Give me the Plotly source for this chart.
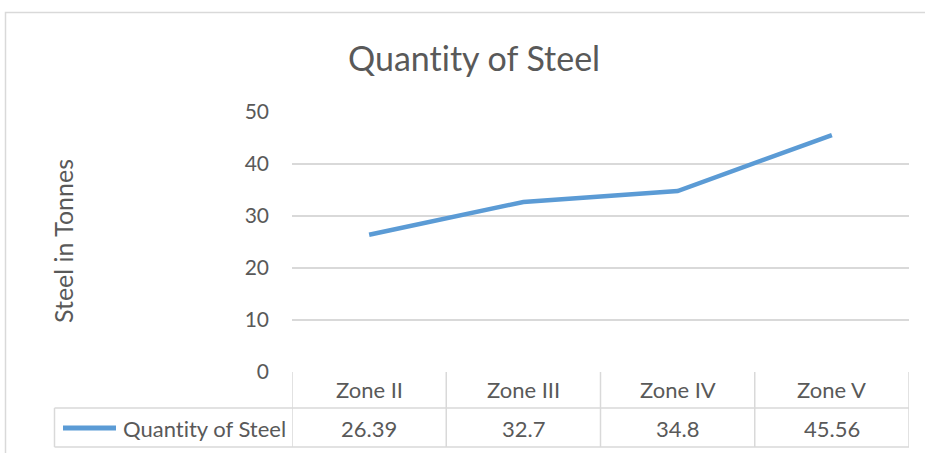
import plotly.graph_objects as go

categories = ["Zone II", "Zone III", "Zone IV", "Zone V"]
steel_tonnes = [26.39, 32.7, 34.8, 45.56]
series_name = "Quantity of Steel"
y_ticks = [0, 10, 20, 30, 40, 50]

W, H = 925, 453
L, T = 292, 112
R = W - 909
B = H - 372
PW, PH = W - L - R, H - T - B

def px(xp):
    return (xp - L) / PW

def py(yp):
    return (H - B - yp) / PH

FONT = "Lato"
TXT = "#595959"
GRID = "#d9d9d9"
BLUE = "#5B9BD5"
ZWNJ = "\u200c"

fig = go.Figure()
fig.add_trace(go.Scatter(
    x=categories, y=steel_tonnes, mode="lines", name=series_name,
    line=dict(color=BLUE, width=4.5), showlegend=False))

shapes = []
annotations = []
shapes.append(dict(type="rect", xref="paper", yref="paper", x0=px(5.5), x1=px(960), y0=py(12.5), y1=py(480),
                   line=dict(color=GRID, width=1.5), layer="below"))
row1_bot, row2_bot = 408, 447
for i in range(len(categories) + 1):
    shapes.append(dict(type="line", xref="x", yref="paper", x0=i - 0.5, x1=i - 0.5,
                       y0=py(372), y1=py(row2_bot), line=dict(color=GRID, width=1.5)))
for yy in (row1_bot, row2_bot):
    shapes.append(dict(type="line", xref="paper", yref="paper", x0=px(54.5), x1=1, y0=py(yy), y1=py(yy),
                       line=dict(color=GRID, width=1.5)))
shapes.append(dict(type="line", xref="paper", yref="paper", x0=px(54.5), x1=px(54.5), y0=py(row1_bot), y1=py(row2_bot),
                   line=dict(color=GRID, width=1.5)))
shapes.append(dict(type="line", xref="paper", yref="paper", x0=px(63), x1=px(116), y0=py(428), y1=py(428),
                   line=dict(color=BLUE, width=5)))
annotations.append(dict(text=series_name.replace("ti", "t" + ZWNJ + "i"), xref="paper", yref="paper",
                        x=px(121), y=py(428), xanchor="left", yanchor="middle", showarrow=False,
                        font=dict(family=FONT, size=22, color=TXT)))
for c, v in zip(categories, steel_tonnes):
    annotations.append(dict(text=c, xref="x", yref="paper", x=c, y=py(389), xanchor="center", yanchor="middle",
                            showarrow=False, font=dict(family=FONT, size=22, color=TXT)))
    annotations.append(dict(text=f"{v:g}", xref="x", yref="paper", x=c, y=py(428), xanchor="center",
                            yanchor="middle", showarrow=False, font=dict(family=FONT, size=22, color=TXT)))
annotations.append(dict(text="Quant" + ZWNJ + "ity of Steel", xref="paper", yref="paper", x=px(474), y=py(57),
                        xanchor="center", yanchor="middle", showarrow=False,
                        font=dict(family=FONT, size=34, color=TXT)))
annotations.append(dict(text="Steel in Tonnes", xref="paper", yref="paper", x=px(63), y=py(241),
                        xanchor="center", yanchor="middle", textangle=-90, showarrow=False,
                        font=dict(family=FONT, size=25, color=TXT)))

fig.update_layout(
    width=W, height=H, margin=dict(l=L, r=R, t=T, b=B),
    paper_bgcolor="white", plot_bgcolor="white",
    shapes=shapes, annotations=annotations, showlegend=False,
    xaxis=dict(type="category", range=[-0.5, 3.5], showticklabels=False, showgrid=False,
               zeroline=False, showline=False, fixedrange=True),
    yaxis=dict(range=[0, 50], tickvals=y_ticks, showgrid=True, gridcolor=GRID, gridwidth=1.5,
               zeroline=False, showline=False, ticks="", ticklabelstandoff=22,
               tickfont=dict(family=FONT, size=21, color=TXT), fixedrange=True),
)
fig.write_html("out.html", config={"displayModeBar": False},
               post_script="document.body.style.margin='0';document.body.style.overflow='hidden';")
